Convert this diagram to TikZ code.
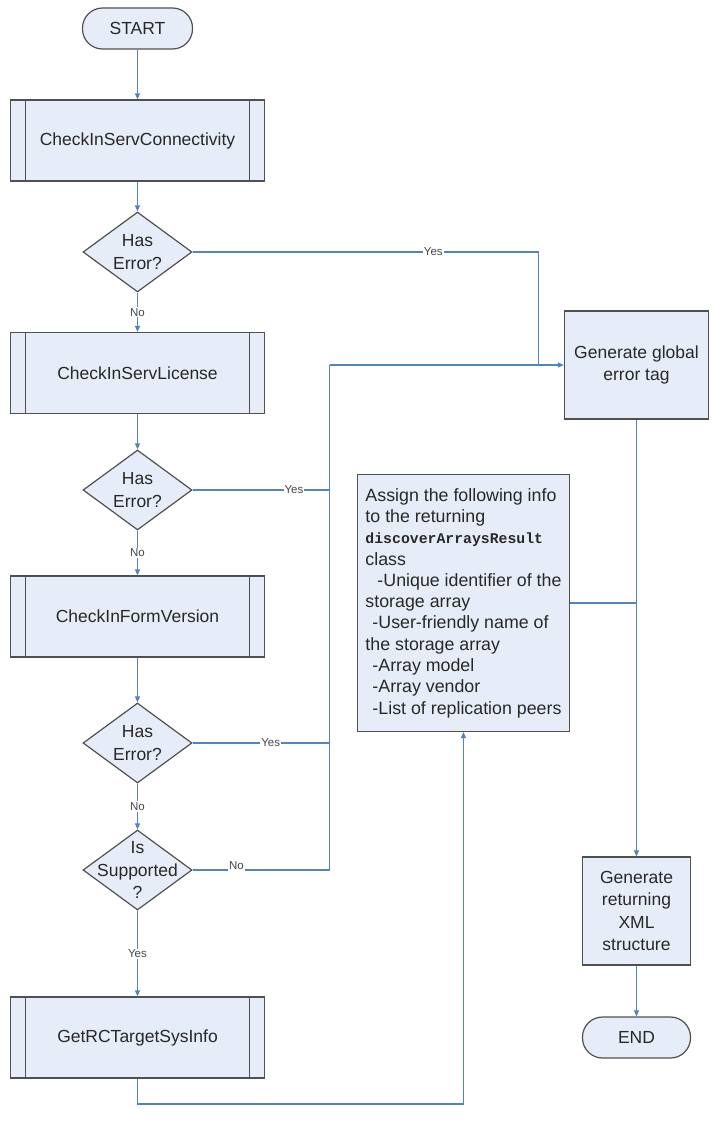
\documentclass[tikz,border=0pt]{standalone}
\usepackage{fontspec}
\setmainfont{Liberation Sans}
\setmonofont{Liberation Mono}
\usetikzlibrary{shapes.geometric,arrows.meta}
\definecolor{linec}{RGB}{84,130,190}
\definecolor{fillc}{RGB}{231,237,248}
\definecolor{bordc}{RGB}{80,80,80}
\definecolor{textc}{RGB}{40,40,40}
\definecolor{lblc}{RGB}{70,70,70}
\tikzset{
  base/.style={draw=bordc, fill=fillc, line width=1.2pt, inner sep=0pt, text=textc,
    font=\fontsize{17.5}{22.5}\selectfont, align=center},
  term/.style={base, rectangle, rounded corners=20pt, minimum height=41pt},
  proc/.style={base, rectangle, minimum width=254pt, minimum height=81pt,
    path picture={\draw[bordc, line width=1.2pt]
      ([xshift=15pt]path picture bounding box.north west) -- ([xshift=15pt]path picture bounding box.south west)
      ([xshift=-15pt]path picture bounding box.north east) -- ([xshift=-15pt]path picture bounding box.south east);}},
  box/.style={base, rectangle},
  dec/.style={base, shape=diamond, minimum width=109pt, minimum height=80pt},
  dectext/.style={text=textc, font=\fontsize{17.5}{22.5}\selectfont, align=center, inner sep=0pt},
  conn/.style={draw=linec, line width=1.3pt},
  arr/.style={conn, -{Triangle[length=6pt,width=5pt]}},
  lbl/.style={fill=white, text=lblc, font=\fontsize{11.5}{13}\selectfont, inner sep=1pt}
}
\begin{document}
\begin{tikzpicture}[x=1pt,y=-1pt]
\useasboundingbox (0,0) rectangle (718,1121);
% left column
\node[term, minimum width=110pt] (start) at (137.5,28.5) {START};
\node[proc] (p1) at (137.5,140.5) {CheckInServConnectivity};
\node[dec] (d1) at (137.5,252) {};
\node[dectext] (d1t) at (d1) {Has\\Error?};
\node[proc] (p2) at (137.5,373) {CheckInServLicense};
\node[dec] (d2) at (137.5,490) {};
\node[dectext] (d2t) at (d2) {Has\\Error?};
\node[proc] (p3) at (137.5,616.5) {CheckInFormVersion};
\node[dec] (d3) at (137.5,743) {};
\node[dectext] (d3t) at (d3) {Has\\Error?};
\node[dec] (d4) at (137.5,870) {};
\node[dectext] (d4t) at (d4) {Is\\Supported\\?};
\node[proc] (p4) at (137.5,1037.5) {GetRCTargetSysInfo};
% right side
\node[box, minimum width=144pt, minimum height=108pt] (gen) at (636.5,365) {Generate global\\error tag};
\node[box, minimum width=212pt, minimum height=257pt, align=left, inner sep=4pt,
      font=\fontsize{17.8}{21.3}\selectfont] (big) at (463.5,603) {%
Assign the following info\\
to the returning\\
{\ttfamily\bfseries\fontsize{14.8}{21.3}\selectfont discoverArraysResult}\\
class\\
\hspace*{12pt}-Unique identifier of the\\
storage array\\
\hspace*{7pt}-User-friendly name of\\
the storage array\\
\hspace*{7pt}-Array model\\
\hspace*{7pt}-Array vendor\\
\hspace*{7pt}-List of replication peers};
\node[box, minimum width=108pt, minimum height=108pt] (xml) at (636.5,911) {Generate\\returning\\XML\\structure};
\node[term, minimum width=108pt] (end) at (636.5,1037.5) {END};
% junctions
\coordinate (j1) at (538.5,365);
\coordinate (bt) at (329.5,365);
\coordinate (b2) at (329.5,490);
\coordinate (b3) at (329.5,743);
\coordinate (b4) at (329.5,870);
\coordinate (bb) at (463.5,1104);
\coordinate (jr) at (636.5,603);
% connectors
\draw[arr] (start) -- (p1);
\draw[arr] (p1) -- (d1);
\draw[arr] (d1) -- node[lbl] {No} (p2);
\draw[conn] (d1.east) -| node[lbl, pos=0.348] {Yes} (j1);
\draw[arr] (p2) -- (d2);
\draw[conn] (d2.east) -- node[lbl, pos=0.74] {Yes} (b2);
\draw[arr] (d2) -- node[lbl] {No} (p3);
\draw[arr] (p3) -- (d3);
\draw[conn] (d3.east) -- node[lbl, pos=0.57] {Yes} (b3);
\draw[arr] (d3) -- node[lbl] {No} (d4);
\draw[conn] (d4.east) -- node[lbl, pos=0.32, yshift=4pt] {No} (b4);
\draw[conn] (b4) -- (bt);
\draw[arr] (bt) -- (gen.west);
\draw[arr] (d4) -- node[lbl] {Yes} (p4);
\draw[arr] (p4.south) |- (bb) -- (big.south);
\draw[conn] (big.east) -- (jr);
\draw[arr] (gen) -- (xml);
\draw[arr] (xml) -- (end);
\end{tikzpicture}
\end{document}
